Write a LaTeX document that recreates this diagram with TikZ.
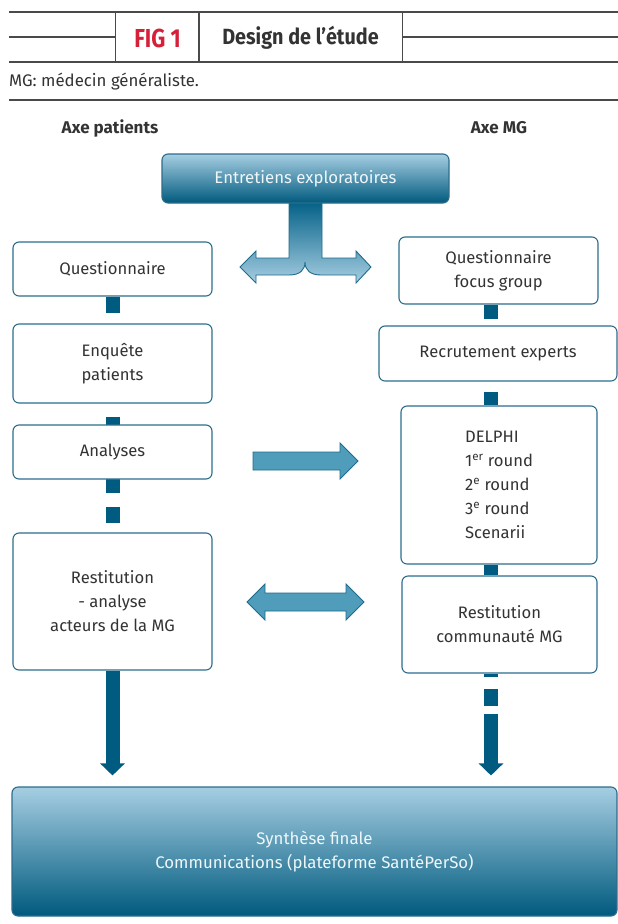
\documentclass[tikz,border=0pt]{standalone}
\usepackage{fontspec}
\setmainfont{Fira Sans}
\newfontfamily\condfont[FakeStretch=0.84]{Fira Sans}
\newfontfamily\titlefont[FakeStretch=0.9]{Fira Sans}
\usetikzlibrary{arrows.meta}
\pgfdeclarelayer{bg}
\pgfsetlayers{bg,main}
\definecolor{boxc}{HTML}{2C6D8C}
\definecolor{txt}{HTML}{333333}
\definecolor{conn}{HTML}{005B80}
\definecolor{arrowfill}{HTML}{4F9DBB}
\definecolor{arrowline}{HTML}{1E6B8C}
\definecolor{figred}{HTML}{D6203A}
\definecolor{rule}{HTML}{4A4A4A}
\definecolor{gtop}{HTML}{A6CEE2}
\definecolor{gmid}{HTML}{2A86AB}
\definecolor{gbot}{HTML}{005A7E}
\definecolor{tdark}{HTML}{005E85}
\definecolor{lighttxt}{HTML}{EEF6FA}
\begin{document}
\begin{tikzpicture}[x=1pt,y=-1pt,
  box/.style={draw=boxc, line width=1.1pt, fill=white, rounded corners=6pt,
    inner sep=0pt, align=center, text=txt, font=\fontsize{16.6}{24}\selectfont},
  dbox/.style={draw=boxc, line width=1.1pt, rounded corners=6pt, inner sep=0pt,
    align=center, text=lighttxt, font=\fontsize{16.8}{24}\selectfont,
    top color=gtop, middle color=gmid, bottom color=gbot},
  linkc/.style={draw=conn, line width=14pt},
  fat/.style={fill=arrowfill, draw=arrowline, line width=0.9pt, line join=miter},
  hrule/.style={draw=rule, line width=1.2pt},
  tip/.style={-{Triangle[width=24pt,length=12pt]}}
]
\useasboundingbox (0,0) rectangle (618,924);

% ---------- header ----------
\draw[hrule] (9,12) -- (618,12);
\draw[hrule] (9,62) -- (618,62);
\draw[hrule] (9,37) -- (115.7,37);
\draw[hrule] (402.7,37) -- (618,37);
\draw[hrule] (115.7,12) -- (115.7,62);
\draw[hrule] (199,12) -- (199,62);
\draw[hrule] (402.7,12) -- (402.7,62);
\draw[hrule] (9,100) -- (618,100);
\node[text=figred, font=\condfont\bfseries\fontsize{26}{26}\selectfont] (fig) at (157.5,38) {FIG 1};
\node[text=txt, font=\titlefont\bfseries\fontsize{22}{22}\selectfont] (title) at (300.5,38) {Design de l’étude};
\node[anchor=west, inner sep=0pt, text=txt, font=\fontsize{16.8}{16.8}\selectfont] (legend) at (9,82) {MG: médecin généraliste.};

% ---------- column titles ----------
\node[text=txt, font=\bfseries\fontsize{17}{17}\selectfont] (axp) at (110,128) {Axe patients};
\node[text=txt, font=\bfseries\fontsize{17}{17}\selectfont] (axm) at (499,128) {Axe MG};

% ---------- top box ----------
\node[dbox, minimum width=287pt, minimum height=49pt] (ent) at (305.5,178.5) {Entretiens exploratoires};

% ---------- left column ----------
\node[box, minimum width=199pt, minimum height=54pt] (q1) at (112.5,269) {Questionnaire};
\node[box, minimum width=199pt, minimum height=79pt] (enq) at (112.5,363.5) {Enquête\\patients};
\node[box, minimum width=199pt, minimum height=54pt] (an) at (112.5,452) {Analyses};
\node[box, minimum width=199pt, minimum height=137pt] (r1) at (112.5,601.5) {Restitution\\- analyse\\acteurs de la MG};

% ---------- right column ----------
\node[box, minimum width=199pt, minimum height=67pt] (fg) at (498.5,270.5) {Questionnaire\\focus group};
\node[box, minimum width=238pt, minimum height=55pt] (rec) at (498,353.5) {Recrutement experts};
\node[box, minimum width=196pt, minimum height=158pt, align=left] (del) at (499,485)
  {DELPHI\\1\textsuperscript{er} round\\2\textsuperscript{e} round\\3\textsuperscript{e} round\\Scenarii};
\node[box, minimum width=195pt, minimum height=97pt] (rc) at (499.5,624.5) {Restitution\\communauté MG};

% ---------- final box ----------
\node[dbox, minimum width=605pt, minimum height=129pt] (fin) at (314.5,851.5)
  {Synthèse finale\\Communications (plateforme SantéPerSo)};

\coordinate (rx) at (491,0);
\coordinate (rj) at (491,714);

\begin{pgfonlayer}{bg}
  % T-shaped split arrow from the top box
  \path[draw=arrowline, line width=0.9pt, line join=miter, top color=tdark, bottom color=gtop]
    (289,200) -- (289,258) -- (256,258) -- (256,251) -- (240,267) -- (256,283) -- (256,275)
    -- (289,275) .. controls (300,275) and (305,270) .. (305,262)
    .. controls (305,270) and (310,275) .. (321,275)
    -- (356,275) -- (356,283) -- (371,267) -- (356,251) -- (356,258) -- (322,258) -- (322,200) -- cycle;
  % left column dashed link
  \draw[linkc, dash pattern=on 16pt off 14pt] (q1.south) -- (r1.north);
  % right column links
  \draw[linkc, dash pattern=on 14pt off 30pt] (fg.south -| rx) -- (rec.north -| rx);
  \draw[linkc, dash pattern=on 15pt off 10pt, dash phase=15pt] (rec.south -| rx) -- (del.north -| rx);
  \draw[linkc] (del.south -| rx) -- (rc.north -| rx);
  \draw[linkc, dash pattern=on 3pt off 12pt on 17pt off 20pt] (rc.south -| rx) -- (rj);
\end{pgfonlayer}

% arrows down to the final box
\draw[linkc, tip] (r1.south) -- ([yshift=11pt]fin.north -| r1.south);
\draw[linkc, tip] (rj) -- ([yshift=11pt]fin.north -| rx);

% horizontal fat arrows
\path[fat] (253,452) -- (340,452) -- (340,443) -- (358,461) -- (340,479) -- (340,470) -- (253,470) -- cycle;
\path[fat] (247,602) -- (265,584) -- (265,593) -- (346,593) -- (346,584) -- (364,602)
  -- (346,620) -- (346,611) -- (265,611) -- (265,620) -- cycle;
\end{tikzpicture}
\end{document}
